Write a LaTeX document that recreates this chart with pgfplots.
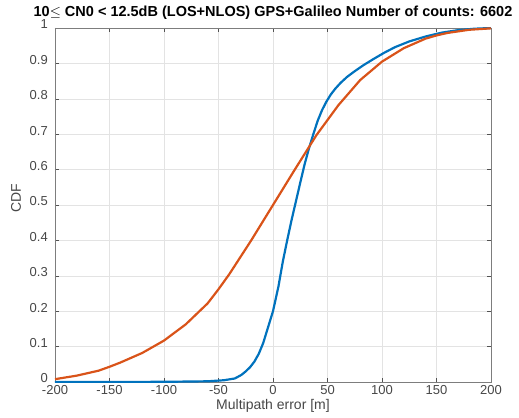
\documentclass[border=0pt]{standalone}
\usepackage{fontspec}
\setmainfont{Liberation Sans}
\usepackage{pgfplots}
\pgfplotsset{compat=1.18}
\definecolor{mblue}{rgb}{0,0.447,0.741}
\definecolor{morange}{rgb}{0.85,0.325,0.098}
\definecolor{mgray}{rgb}{0.15,0.15,0.15}
\begin{document}
\begin{tikzpicture}
\begin{axis}[
  name=ax,
  scale only axis,
  width=436bp, height=354bp,
  xmin=-200, xmax=200, ymin=0, ymax=1,
  xtick={-200,-150,...,200},
  ytick={0,0.1,...,1},
  yticklabels={0,0.1,0.2,0.3,0.4,0.5,0.6,0.7,0.8,0.9,1},
  tick align=inside,
  tick pos=both,
  major tick length=4bp,
  grid=major,
  grid style={gray!22, line width=0.4pt},
  axis line style={mgray!60, line width=0.6pt},
  tick style={mgray!80, line width=0.5pt},
  /pgf/number format/assume math mode=true,
  ticklabel style={font=\fontsize{13bp}{15bp}\selectfont, text=mgray!85},
  xticklabel style={anchor=base, inner sep=0pt, yshift=-12.5bp},
  yticklabel style={anchor=east, inner sep=0pt, xshift=-7bp, yshift=3.5bp},
  label style={font=\fontsize{14bp}{16bp}\selectfont, text=mgray!85},
  xlabel={Multipath error [m]},
  ylabel={CDF},
  xlabel style={at={(axis description cs:0.5,0)}, anchor=base, inner sep=0pt, yshift=-27bp},
  ylabel style={at={(axis description cs:0,0.52)}, anchor=center, inner sep=0pt, yshift=39bp},
  title={10$\leq$ CN0 < 12.5dB (LOS+NLOS) GPS+Galileo Number of counts: 6602},
  title style={font=\bfseries\fontsize{14.5bp}{16bp}\selectfont, at={(axis description cs:0.5,1)}, anchor=base, inner sep=0pt, yshift=6bp},
]
\addplot[color=mblue, line width=2.2pt, line join=round] coordinates {
(-200,0) (-100,0.0005) (-60,0.002) (-45,0.005) (-35,0.01) (-29,0.02) (-25,0.03)
(-21,0.042) (-17,0.058) (-13,0.08) (-9,0.11) (-5,0.15) (0,0.2) (5,0.27) (9,0.34)
(13,0.40) (17,0.457) (21,0.51) (25,0.563) (29,0.615) (33,0.66) (37,0.70)
(41,0.738) (45,0.768) (49,0.792) (53,0.812) (57,0.828) (62,0.845) (68,0.862)
(75,0.878) (83,0.895) (92,0.912) (102,0.93) (112,0.946) (125,0.962)
(140,0.976) (155,0.987) (170,0.994) (185,0.998) (200,1.0)
};
\addplot[color=morange, line width=2.2pt, line join=round] coordinates {
(-200,0.008) (-180,0.018) (-160,0.032) (-150,0.043) (-140,0.055) (-120,0.082)
(-100,0.117) (-80,0.163) (-60,0.222) (-50,0.262) (-40,0.305) (-20,0.400)
(0,0.500) (20,0.600) (40,0.698) (60,0.782) (80,0.853) (100,0.905) (120,0.943)
(140,0.970) (150,0.979) (160,0.986) (180,0.995) (200,0.999)
};
\end{axis}
\pgfresetboundingbox
\path ([shift={(-55bp,-36bp)}]ax.south west) rectangle ([shift={(28bp,28bp)}]ax.north east);
\end{tikzpicture}
\end{document}
